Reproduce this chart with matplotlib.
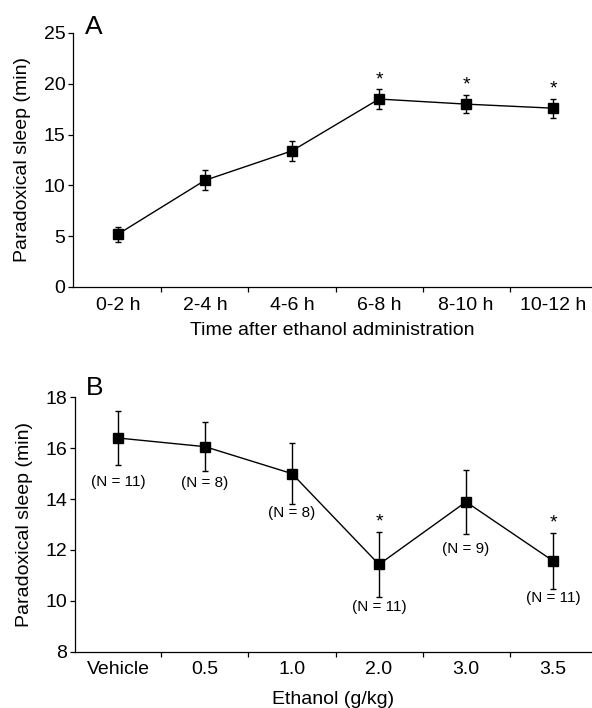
import numpy as np
import matplotlib
matplotlib.use('Agg')
import matplotlib.pyplot as plt

plt.rcParams['font.family'] = ['Liberation Sans', 'DejaVu Sans']

# panel A data
time_labels = ['0-2 h', '2-4 h', '4-6 h', '6-8 h', '8-10 h', '10-12 h']
sleep_a = [5.2, 10.5, 13.4, 18.5, 18.0, 17.6]
sem_a = [0.75, 1.0, 1.0, 0.95, 0.9, 0.95]
star_a = [False, False, False, True, True, True]

# panel B data
dose_labels = ['Vehicle', '0.5', '1.0', '2.0', '3.0', '3.5']
sleep_b = [16.4, 16.06, 15.0, 11.43, 13.89, 11.57]
sem_b = [1.08, 0.95, 1.2, 1.27, 1.27, 1.1]
star_b = [False, False, False, True, False, True]
n_labels = ['(N = 11)', '(N = 8)', '(N = 8)', '(N = 11)', '(N = 9)', '(N = 11)']
n_offset = [17, 12, 9, 10, 15, 9]   # px below lower error bar

fig = plt.figure(figsize=(5.92, 7.08), dpi=100)
axA = fig.add_axes([73/592, 1-287/708, 1-73/592, (287-33)/708])
axB = fig.add_axes([75/592, 1-651.7/708, 1-75/592, (651.7-397.3)/708])


def style(ax, labels, xl, xmin, lp):
    x = np.arange(len(labels))
    ax.set_xlim(xmin, 5.448)
    ax.spines['top'].set_visible(False)
    ax.spines['right'].set_visible(False)
    ax.spines['left'].set_linewidth(0.9)
    ax.spines['bottom'].set_linewidth(0.9)
    ax.set_xticks(x[:-1] + 0.5)
    ax.set_xticklabels([])
    ax.set_xticks(x, minor=True)
    ax.set_xticklabels(labels, minor=True, fontsize=14)
    ax.tick_params(axis='x', which='minor', length=0, pad=7)
    ax.tick_params(axis='x', which='major', length=3.5, width=0.9, direction='out')
    ax.tick_params(axis='y', length=3.5, width=0.9, labelsize=14, pad=2)
    ax.set_xlabel(xl, fontsize=14, labelpad=lp)
    ax.set_ylabel('Paradoxical sleep (min)', fontsize=14, labelpad=9)
    return x


x = style(axA, time_labels, 'Time after ethanol administration', -0.517, 6)
axA.errorbar(x, sleep_a, yerr=sem_a, color='black', lw=1, marker='s', ms=6.5,
             capsize=2, elinewidth=1, capthick=1)
axA.set_ylim(0, 25)
axA.set_yticks([0, 5, 10, 15, 20, 25])
for xi, v, s, st in zip(x, sleep_a, sem_a, star_a):
    if st:
        axA.annotate('*', (xi, v + s), xytext=(0, 1), textcoords='offset points',
                     ha='center', va='bottom', fontsize=14)
fig.text(85/592, 1-34/708, 'A', fontsize=19, ha='left', va='baseline')

x = style(axB, dose_labels, 'Ethanol (g/kg)', -0.494, 9)
axB.errorbar(x, sleep_b, yerr=sem_b, color='black', lw=1, marker='s', ms=6.5,
             capsize=2, elinewidth=1, capthick=1)
axB.set_ylim(8, 18)
axB.set_yticks([8, 10, 12, 14, 16, 18])
for xi, v, s, st, nl, off in zip(x, sleep_b, sem_b, star_b, n_labels, n_offset):
    if st:
        axB.annotate('*', (xi, v + s), xytext=(0, 1), textcoords='offset points',
                     ha='center', va='bottom', fontsize=14)
    axB.annotate(nl, (xi, v - s), xytext=(0, -off * 0.72), textcoords='offset points',
                 ha='center', va='center', fontsize=11)
fig.text(86/592, 1-395/708, 'B', fontsize=19, ha='left', va='baseline')

fig.savefig('out.png', dpi=100)
